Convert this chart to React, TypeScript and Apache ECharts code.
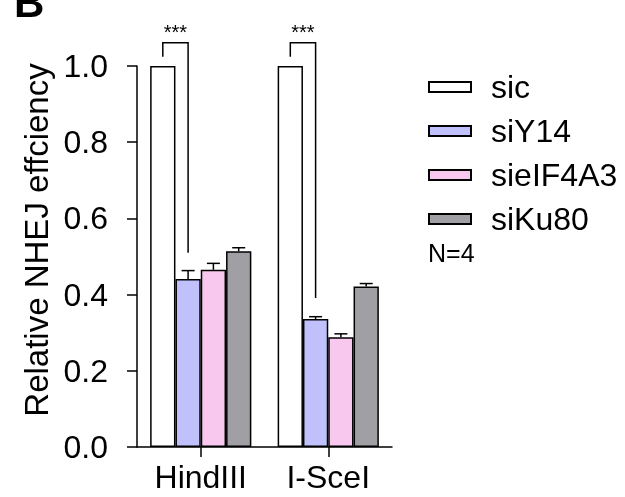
import React, { useEffect, useRef } from "react";
import * as echarts from "echarts";

const categories = ["HindIII", "I-SceI"];
const seriesNames = ["sic", "siY14", "sieIF4A3", "siKu80"];
const sicValues = [1.0, 1.0];
const siY14Values = [0.441, 0.336];
const sieIF4A3Values = [0.465, 0.288];
const siKu80Values = [0.514, 0.421];
const siY14Err = [0.022, 0.006];
const sieIF4A3Err = [0.017, 0.009];
const siKu80Err = [0.009, 0.008];
const yTicks = [0, 0.2, 0.4, 0.6, 0.8, 1.0];
// significance brackets between sic (bar 0) and siY14 (bar 1)
const bracketTop = 1.061;
const bracketLeftBottom = 1.024;
const bracketRightBottom = [0.51, 0.391];
const sigLabels = ["***", "***"];
const yAxisTitle = "Relative NHEJ effciency";
const nLabel = "N=4";
const panelLabel = "B";

const colors = ["#ffffff", "#c0c0fc", "#f8c8ee", "#a0a0a4"];
const FONT = "Liberation Sans, Arial, sans-serif";
const BW = 25.3;

export default function App() {
  const ref = useRef<HTMLDivElement>(null);
  useEffect(() => {
    const chart = echarts.init(ref.current!, null, { renderer: "svg" });
    const valuesAll = [sicValues, siY14Values, sieIF4A3Values, siKu80Values];
    const errAll = [null, siY14Err, sieIF4A3Err, siKu80Err];
    const errData: number[][] = [];
    errAll.forEach((errs, s) => {
      if (!errs) return;
      errs.forEach((e, c) => {
        errData.push([c, s, valuesAll[s][c], valuesAll[s][c] + e]);
      });
    });
    const bracketData = categories.map((_, c) => [c, 0, 1, bracketTop, bracketLeftBottom, bracketRightBottom[c]]);

    const barSeries = seriesNames.map((name, i) => ({
      name,
      type: "bar",
      data: valuesAll[i],
      barWidth: BW,
      barGap: "0%",
      itemStyle: { color: colors[i], borderColor: "#000", borderWidth: 1.5 },
    }));

    chart.setOption({
      animation: false,
      grid: { left: 137, right: 233, top: 66, bottom: 50, containLabel: false },
      legend: {
        orient: "vertical",
        left: 428,
        top: 71,
        padding: 0,
        itemWidth: 42,
        itemHeight: 10,
        itemGap: 12,
        icon: "rect",
        data: seriesNames,
        textStyle: { fontFamily: FONT, fontSize: 32, color: "#000", padding: [0, 0, 0, 15], lineHeight: 32 },
      },
      xAxis: {
        type: "category",
        data: categories,
        axisLine: { lineStyle: { color: "#000", width: 1.5 } },
        axisTick: { show: true, alignWithLabel: true, length: 10, lineStyle: { color: "#000", width: 1.5 } },
        axisLabel: { fontFamily: FONT, fontSize: 32, color: "#000", margin: 14 },
      },
      yAxis: {
        type: "value",
        min: 0,
        max: 1,
        interval: 0.2,
        splitLine: { show: false },
        axisLine: { show: true, lineStyle: { color: "#000", width: 1.5 } },
        axisTick: { show: true, length: 10, lineStyle: { color: "#000", width: 1.5 } },
        axisLabel: {
          fontFamily: FONT,
          fontSize: 32,
          color: "#000",
          margin: 29,
          formatter: (v: number) => (yTicks.includes(Math.round(v * 10) / 10) ? v.toFixed(1) : ""),
        },
      },
      graphic: [
        { type: "text", left: 14, top: -19, style: { text: panelLabel, fontFamily: FONT, fontWeight: "bold", fontSize: 42, fill: "#000" } },
        { type: "text", left: 428, top: 240, style: { text: nLabel, fontFamily: FONT, fontSize: 25, fill: "#000" } },
        {
          type: "text",
          x: 36,
          y: 240,
          rotation: Math.PI / 2,
          style: { text: yAxisTitle, fontFamily: FONT, fontSize: 33, fill: "#000", align: "center", verticalAlign: "middle" },
        },
      ],
      series: [
        ...barSeries,
        {
          type: "custom",
          name: "err",
          data: errData,
          z: 10,
          clip: false,
          renderItem: (params: any, api: any) => {
            const c = api.value(0);
            const s = api.value(1);
            const p0 = api.coord([c, api.value(2)]);
            const p1 = api.coord([c, api.value(3)]);
            const x = p0[0] + (s - 1.5) * BW;
            const st = { stroke: "#000", lineWidth: 1.5 };
            return {
              type: "group",
              children: [
                { type: "line", shape: { x1: x, y1: p0[1], x2: x, y2: p1[1] }, style: st },
                { type: "line", shape: { x1: x - 6.5, y1: p1[1], x2: x + 6.5, y2: p1[1] }, style: st },
              ],
            };
          },
        },
        {
          type: "custom",
          name: "brackets",
          data: bracketData,
          z: 10,
          clip: false,
          renderItem: (params: any, api: any) => {
            const c = api.value(0);
            const l = api.value(1);
            const r = api.value(2);
            const top = api.coord([c, api.value(3)]);
            const lb = api.coord([c, api.value(4)]);
            const rb = api.coord([c, api.value(5)]);
            const xl = top[0] + (l - 1.5) * BW;
            const xr = top[0] + (r - 1.5) * BW;
            const st = { stroke: "#000", lineWidth: 1.5, fill: null };
            return {
              type: "group",
              children: [
                {
                  type: "polyline",
                  shape: { points: [[xl, lb[1]], [xl, top[1]], [xr, top[1]], [xr, rb[1]]] },
                  style: st,
                },
                {
                  type: "text",
                  style: {
                    text: sigLabels[params.dataIndex],
                    x: (xl + xr) / 2,
                    y: top[1] - 11,
                    align: "center",
                    verticalAlign: "middle",
                    fontFamily: FONT,
                    fontSize: 20,
                    fill: "#000",
                  },
                },
              ],
            };
          },
        },
      ],
    });
    return () => chart.dispose();
  }, []);
  return <div ref={ref} style={{ position: "fixed", left: 0, top: 0, width: 625, height: 497 }} />;
}
